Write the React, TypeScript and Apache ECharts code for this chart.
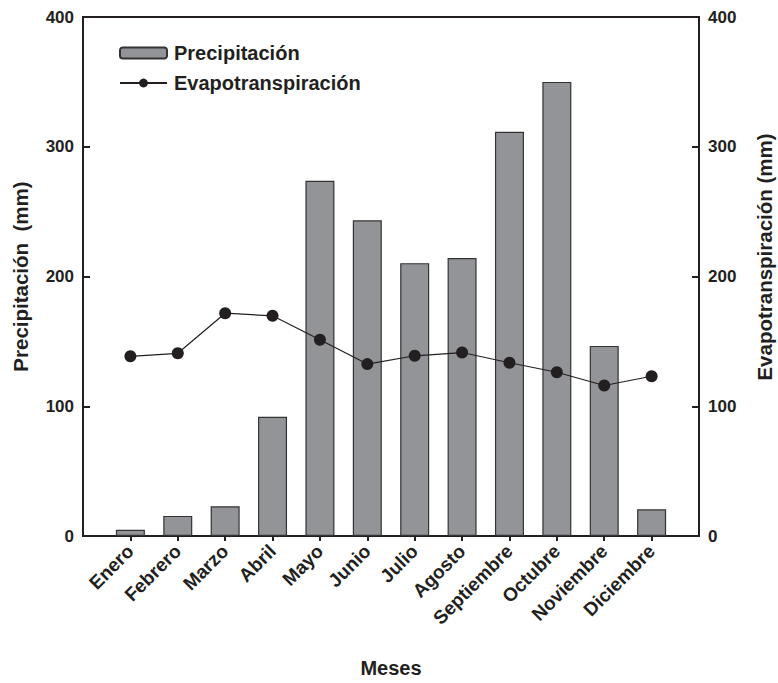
import React, { useEffect, useRef } from "react";
import * as echarts from "echarts";

const months = ["Enero", "Febrero", "Marzo", "Abril", "Mayo", "Junio", "Julio", "Agosto", "Septiembre", "Octubre", "Noviembre", "Diciembre"];
const monthPositions = [1, 2, 3, 4, 5, 6, 7, 8, 9, 10, 11, 12];
const precipitacion = [4.8, 15.5, 22.9, 91.9, 273.8, 243.3, 210.3, 214.3, 311.6, 350, 146.5, 20.6];
const evapotranspiracion = [138.5, 140.8, 171.7, 169.7, 151.2, 132.5, 138.9, 141.4, 133.5, 126.2, 116, 123.1];
const yTicks = [0, 100, 200, 300, 400];

const INK = "#231f20";
const FONT = "'Liberation Sans', Arial, sans-serif";

export default function App() {
  const ref = useRef<HTMLDivElement>(null);
  useEffect(() => {
    if (!ref.current) return;
    const chart = echarts.init(ref.current, null, { renderer: "svg" });
    const yAxisCommon = {
      type: "value" as const,
      min: yTicks[0],
      max: yTicks[yTicks.length - 1],
      interval: 100,
      splitLine: { show: false },
      axisLine: { show: true, lineStyle: { color: INK, width: 2 } },
      axisTick: { show: true, inside: true, length: 7, lineStyle: { color: INK, width: 2 } },
      axisLabel: { color: INK, fontSize: 17, fontWeight: "bold", fontFamily: FONT, margin: 9 },
      nameLocation: "middle" as const,
      nameRotate: 90,
      nameTextStyle: { color: INK, fontSize: 20.5, fontWeight: "bold", fontFamily: FONT },
    };
    chart.setOption({
      animation: false,
      backgroundColor: "#ffffff",
      textStyle: { fontFamily: FONT },
      grid: { left: 83, right: 79, top: 17, bottom: 141, show: true, borderColor: INK, borderWidth: 2, backgroundColor: "transparent" },
      legend: {
        orient: "vertical",
        left: 114,
        top: 38,
        itemWidth: 47,
        itemHeight: 11,
        itemGap: 10,
        textStyle: { color: INK, fontSize: 20, fontWeight: "bold", fontFamily: FONT, padding: [0, 0, 0, 2] },
        data: ["Precipitación", "Evapotranspiración"],
      },
      graphic: [
        {
          type: "text",
          x: 764,
          y: 257,
          rotation: Math.PI / 2,
          style: {
            text: "Evapotranspiración (mm)",
            fill: INK,
            font: "bold 20.5px 'Liberation Sans', Arial, sans-serif",
            align: "center",
            verticalAlign: "middle",
            textAlign: "center",
            textVerticalAlign: "middle",
          },
        },
      ],
      xAxis: {
        type: "value",
        min: 0,
        max: 13,
        interval: 1,
        splitLine: { show: false },
        axisLine: { show: true, lineStyle: { color: INK, width: 2 } },
        axisTick: { show: true, length: 5, customValues: monthPositions, lineStyle: { color: INK, width: 2 } },
        axisLabel: {
          customValues: monthPositions,
          formatter: (v: number) => months[Math.round(v) - 1] || "",
          rotate: 45,
          margin: 12,
          color: INK,
          fontSize: 19,
          fontWeight: "bold",
          fontFamily: FONT,
        },
        name: "Meses",
        nameLocation: "middle",
        nameGap: 122,
        nameTextStyle: { color: INK, fontSize: 20, fontWeight: "bold", fontFamily: FONT },
      },
      yAxis: [
        { ...yAxisCommon, position: "left", name: "Precipitación  (mm)", nameGap: 52 },
        { ...yAxisCommon, position: "right" },
      ],
      series: [
        {
          name: "Precipitación",
          type: "bar",
          yAxisIndex: 0,
          barWidth: 29,
          itemStyle: { color: "#939498", borderColor: "#333333", borderWidth: 1.2 },
          data: precipitacion.map((v, i) => [monthPositions[i], v]),
          z: 2,
        },
        {
          name: "Evapotranspiración",
          type: "line",
          yAxisIndex: 1,
          symbol: "circle",
          symbolSize: 12,
          lineStyle: { color: INK, width: 1.2 },
          itemStyle: { color: INK },
          data: evapotranspiracion.map((v, i) => [monthPositions[i], v]),
          z: 3,
        },
      ],
    });
    return () => chart.dispose();
  }, []);
  return <div ref={ref} style={{ position: "fixed", left: 0, top: 0, width: 778, height: 683 }} />;
}
